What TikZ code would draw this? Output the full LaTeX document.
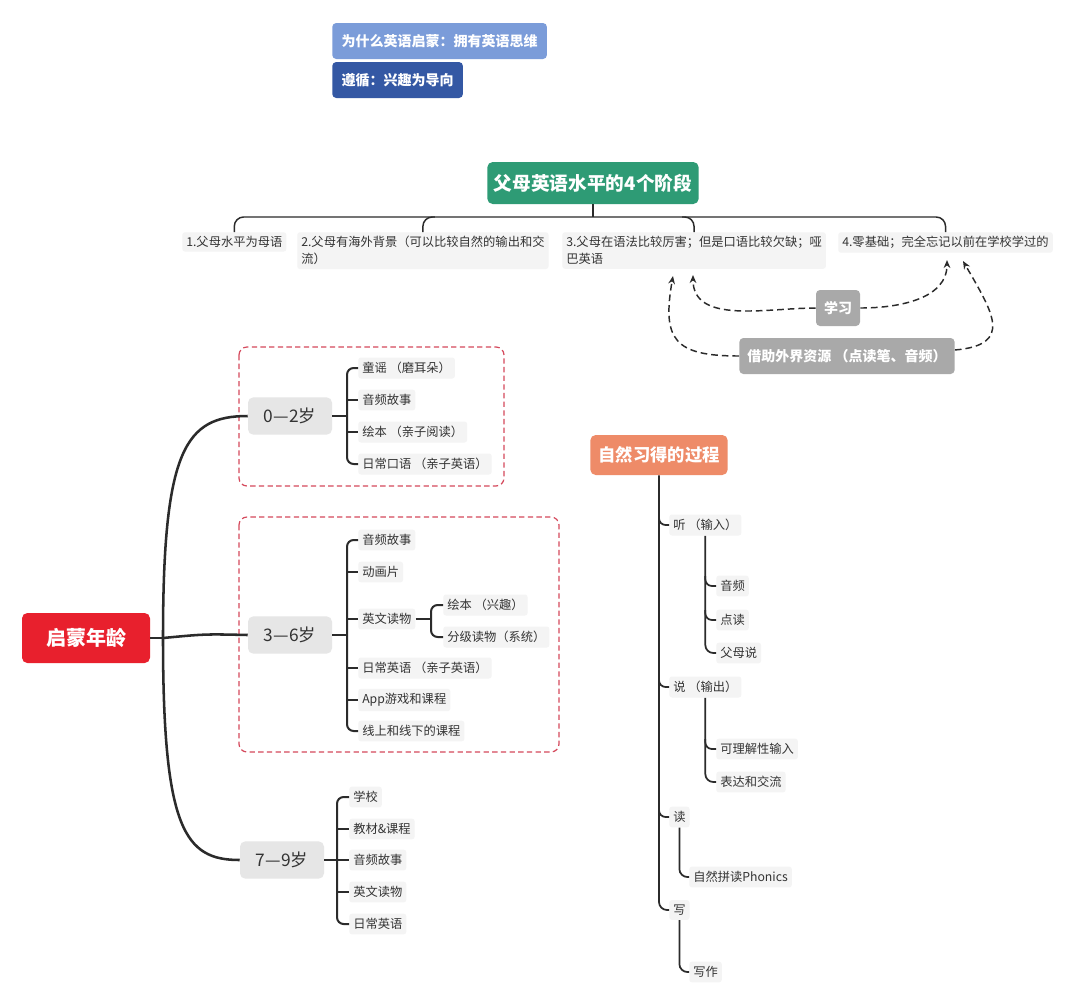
\documentclass[tikz,border=0pt]{standalone}
\usepackage{fontspec}
\setmainfont{Noto Sans CJK SC}
\usetikzlibrary{arrows.meta,calc}
\definecolor{txt}{HTML}{333333}
\definecolor{leafbg}{HTML}{F4F4F4}
\definecolor{blueA}{HTML}{7B9CD9}
\definecolor{blueB}{HTML}{3458A4}
\definecolor{greenT}{HTML}{2E9B75}
\definecolor{redR}{HTML}{E8202D}
\definecolor{orangeN}{HTML}{EE8B68}
\definecolor{greyN}{HTML}{A9A9A9}
\definecolor{ageG}{HTML}{E6E6E6}
\definecolor{redD}{HTML}{D5495C}
\definecolor{lineC}{HTML}{2B2B2B}
\begin{document}
\begin{tikzpicture}[x=0.75pt,y=-0.75pt,
  small/.style={font=\fontsize{9.2}{12.8}\selectfont},
  leaf/.style={small, text=txt, fill=leafbg, rounded corners=2pt, inner xsep=3pt, inner ysep=3.5pt, anchor=west},
  stage/.style={small, text=txt, fill=leafbg, rounded corners=2pt, inner xsep=3pt, inner ysep=3pt, anchor=north west, align=left},
  topbox/.style={font=\fontsize{10.5}{13}\selectfont\bfseries, text=white, rounded corners=3pt, inner xsep=7pt, minimum height=27pt, anchor=west},
  greybox/.style={font=\fontsize{10.5}{13}\selectfont\bfseries, text=white, fill=greyN, rounded corners=3pt, inner xsep=6pt, minimum height=27pt},
  agebox/.style={font=\fontsize{13}{15}\selectfont, text=txt, fill=ageG, rounded corners=4pt, minimum width=63pt, minimum height=28pt},
  mainc/.style={draw=lineC, line width=1.9pt},
  br/.style={draw=lineC, line width=1.5pt},
  rt/.style={draw=lineC, line width=1.3pt},
  st/.style={draw=lineC, line width=1.1pt},
  dash arrow/.style={draw=lineC, line width=1.1pt, dash pattern=on 5pt off 3pt, -{Stealth[length=6pt,width=5pt]}},
  reddash/.style={draw=redD, line width=0.9pt, dash pattern=on 4pt off 2.5pt, rounded corners=6pt}
]
\fill[white] (0,0) rectangle (1080,1007);
\useasboundingbox (0,0) rectangle (1080,1007);

% top boxes
\node[topbox, fill=blueA] (why) at (332,41) {为什么英语启蒙：拥有英语思维};
\node[topbox, fill=blueB] (follow) at (332,80) {遵循：兴趣为导向};

% four stages
\node[font=\fontsize{14}{16}\selectfont\bfseries, text=white, fill=greenT, rounded corners=4pt, inner xsep=5pt, minimum height=31.5pt] (title) at (593,183) {父母英语水平的4个阶段};
\node[stage] (s1) at (182,232) {1.父母水平为母语};
\node[stage] (s2) at (297,232) {2.父母有海外背景（可以比较自然的输出和交\\流）};
\node[stage] (s3) at (562,232) {3.父母在语法比较厉害；但是口语比较欠缺；哑\\巴英语};
\node[stage] (s4) at (838,232) {4.零基础；完全忘记以前在学校学过的};
\coordinate (hy) at (0,217);
\draw[st] (title.south) -- (title.south |- hy);
\draw[st, rounded corners=7pt] (s1.north) -- (s1.north |- hy) -- (s4.north |- hy) -- (s4.north);
\draw[st, rounded corners=7pt] ($(s2.north |- hy)+(12,0)$) -- (s2.north |- hy) -- (s2.north);
\draw[st, rounded corners=7pt] ($(s3.north |- hy)+(-12,0)$) -- (s3.north |- hy) -- (s3.north);

% learning resources
\node[greybox] (xx) at (838,308) {学习};
\node[greybox] (jz) at (847,356) {借助外界资源 （点读笔、音频）};
\coordinate (c3a) at (673,276);
\coordinate (c3b) at (693,275);
\coordinate (c4a) at (947,260);
\coordinate (c4b) at (963,261);
\draw[dash arrow] (xx.west) to[out=180,in=-90] (c3b);
\draw[dash arrow] (xx.east) to[out=0,in=-90] (c4a);
\draw[dash arrow] (jz.west) to[out=180,in=-100,looseness=1.6] (c3a);
\draw[dash arrow] ($(jz.east)+(0,-6)$) to[out=5,in=-60,looseness=1.7] (c4b);

% left tree
\draw[reddash] (239,347) rectangle (504,486);
\draw[reddash] (239,517) rectangle (559,752);
\node[font=\fontsize{15}{17}\selectfont\bfseries, text=white, fill=redR, rounded corners=4pt, minimum width=96pt, minimum height=37.5pt] (root) at (86,638) {启蒙年龄};
\node[agebox] (a02) at (290,416) {0—2岁};
\node[agebox] (a36) at (290,635) {3—6岁};
\node[agebox] (a79) at (282,860) {7—9岁};
\coordinate (rj) at (163,638);
\draw[mainc] (root.east) -- (rj);
\draw[mainc] (rj) .. controls (163,450) and (185,416) .. (a02.west);
\draw[mainc] (rj) .. controls (205,634) .. (a36.west);
\draw[mainc] (rj) .. controls (163,830) and (185,860) .. (a79.west);

% 0-2
\node[leaf] (p1) at (358,368) {童谣 （磨耳朵）};
\node[leaf] (p2) at (358,400) {音频故事};
\node[leaf] (p3) at (358,432) {绘本 （亲子阅读）};
\node[leaf] (p4) at (358,464) {日常口语 （亲子英语）};
\coordinate (b1) at (347,416);
\draw[br] (a02.east) -- (b1);
\draw[br, rounded corners=5pt] (p1.west) -- (p1.west -| b1) -- (p4.west -| b1) -- (p4.west);
\draw[br] (p2.west -| b1) -- (p2.west);
\draw[br] (p3.west -| b1) -- (p3.west);

% 3-6
\node[leaf] (q1) at (358,540) {音频故事};
\node[leaf] (q2) at (358,572) {动画片};
\node[leaf] (q3) at (358,619) {英文读物};
\node[leaf] (q4) at (358,668) {日常英语 （亲子英语）};
\node[leaf] (q5) at (358,700) {App游戏和课程};
\node[leaf] (q6) at (358,731) {线上和线下的课程};
\coordinate (b2) at (347,635);
\draw[br] (a36.east) -- (b2);
\draw[br, rounded corners=5pt] (q1.west) -- (q1.west -| b2) -- (q6.west -| b2) -- (q6.west);
\foreach \n in {q2,q3,q4,q5} \draw[br] (\n.west -| b2) -- (\n.west);
\node[leaf] (r1) at (443,605) {绘本 （兴趣）};
\node[leaf] (r2) at (443,637) {分级读物（系统）};
\coordinate (b3) at (431,619);
\draw[br] (q3.east) -- (b3);
\draw[br, rounded corners=5pt] (r1.west) -- (r1.west -| b3) -- (r2.west -| b3) -- (r2.west);

% 7-9
\node[leaf] (u1) at (349,797) {学校};
\node[leaf] (u2) at (349,829) {教材\&课程};
\node[leaf] (u3) at (349,860) {音频故事};
\node[leaf] (u4) at (349,892) {英文读物};
\node[leaf] (u5) at (349,924) {日常英语};
\coordinate (b4) at (337,860);
\draw[br] (a79.east) -- (b4);
\draw[br, rounded corners=5pt] (u1.west) -- (u1.west -| b4) -- (u5.west -| b4) -- (u5.west);
\foreach \n in {u2,u3,u4} \draw[br] (\n.west -| b4) -- (\n.west);

% right tree
\node[font=\fontsize{13}{15}\selectfont\bfseries, text=white, fill=orangeN, rounded corners=4pt, inner xsep=6pt, minimum height=30pt] (nat) at (659,455) {自然习得的过程};
\node[leaf] (t) at (669,525) {听 （输入）};
\node[leaf] (sp) at (669,687) {说 （输出）};
\node[leaf] (rd) at (669,817) {读};
\node[leaf] (wr) at (669,910) {写};
\draw[rt, rounded corners=6pt] (nat.south) -- (nat.south |- wr.west) -- (wr.west);
\foreach \n in {t,sp,rd} \draw[rt, rounded corners=5pt] ($(\n.west -| nat.south)+(0,-10)$) -- (\n.west -| nat.south) -- (\n.west);

\node[leaf] (t1) at (716,586) {音频};
\node[leaf] (t2) at (716,620) {点读};
\node[leaf] (t3) at (716,653) {父母说};
\draw[rt, rounded corners=6pt] (t.south) -- (t.south |- t3.west) -- (t3.west);
\foreach \n in {t1,t2} \draw[rt, rounded corners=5pt] ($(\n.west -| t.south)+(0,-10)$) -- (\n.west -| t.south) -- (\n.west);

\node[leaf] (sp1) at (716,749) {可理解性输入};
\node[leaf] (sp2) at (716,782) {表达和交流};
\draw[rt, rounded corners=6pt] (sp.south) -- (sp.south |- sp2.west) -- (sp2.west);
\draw[rt, rounded corners=5pt] ($(sp1.west -| sp.south)+(0,-10)$) -- (sp1.west -| sp.south) -- (sp1.west);

\node[leaf] (rd1) at (689,877) {自然拼读Phonics};
\draw[rt, rounded corners=6pt] (rd.south) -- (rd.south |- rd1.west) -- (rd1.west);
\node[leaf] (wr1) at (689,972) {写作};
\draw[rt, rounded corners=6pt] (wr.south) -- (wr.south |- wr1.west) -- (wr1.west);
\end{tikzpicture}
\end{document}
